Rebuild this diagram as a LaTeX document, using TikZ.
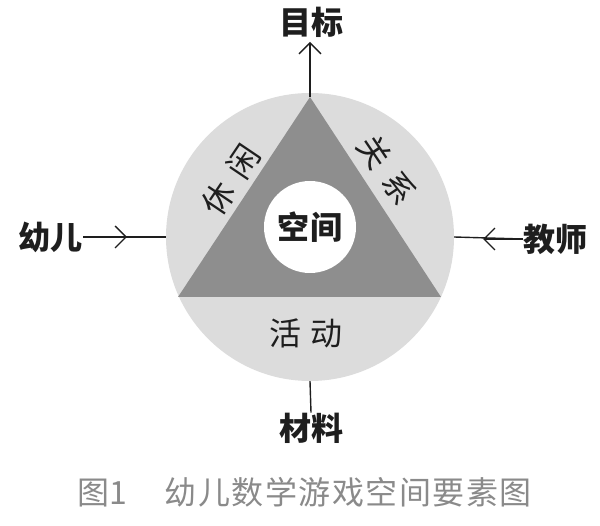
\documentclass[tikz,border=0pt]{standalone}
\usepackage{fontspec}
\setmainfont{Noto Sans CJK SC}
\usetikzlibrary{arrows.meta}
\definecolor{ringgray}{HTML}{DCDCDC}
\definecolor{trigray}{HTML}{8E8E8E}
\definecolor{capgray}{HTML}{8A8A8A}
\definecolor{inkdark}{HTML}{1E1E1E}
\tikzset{
  outerlabel/.style={font=\fontsize{32}{34}\selectfont\bfseries, text=inkdark, inner sep=0pt},
  ringlabel/.style={font=\fontsize{32}{34}\selectfont, text=inkdark, inner sep=0pt},
  conn/.style={line width=1.4pt, draw=inkdark},
  chev/.style={conn, -{Straight Barb[length=11pt,width=22pt,line width=1.4pt]}},
}
\begin{document}
\begin{tikzpicture}[x=1pt,y=-1pt]
\useasboundingbox (0,0) rectangle (600,526);
% outer ring
\node[circle, fill=ringgray, minimum size=288pt, inner sep=0pt] (C) at (310,237) {};
% triangle
\coordinate (A) at (310,97);
\coordinate (L) at (178,297);
\coordinate (R) at (441,297);
\fill[trigray] (A) -- (L) -- (R) -- cycle;
% inner circle
\node[circle, fill=white, minimum size=92pt, inner sep=0pt] (I) at (310,227) {};
\node[font=\fontsize{32}{34}\selectfont\bfseries, text=inkdark, inner sep=0pt] (kj) at (310,227) {空\hspace{1pt}间};
% ring labels
\node[ringlabel, rotate=56] (xx) at (231,180) {休\hspace{12pt}闲};
\node[ringlabel, rotate=-56] (gx) at (387,170) {关\hspace{12pt}系};
\node[ringlabel] (hd) at (306,333) {活\hspace{10pt}动};
% outer labels
\node[outerlabel] (mb) at (311,22) {目标};
\node[outerlabel] (ye) at (51,237) {幼儿};
\node[outerlabel] (js) at (555,239) {教师};
\node[outerlabel] (cl) at (311,428) {材料};
% connectors
\coordinate (topend) at (310,42);
\draw[chev] (A) -- (topend);
\coordinate (lmid) at (127,237);
\draw[conn] (ye.east) -- (C.west);
\draw[chev] (ye.east) -- (lmid);
\coordinate (rmid) at (483,239);
\draw[conn] (js.west) -- (C.east);
\draw[chev] (js.west) -- (rmid);
\draw[conn] (C.south) -- (cl.north);
% caption
\node[font=\fontsize{32}{34}\selectfont, text=capgray, inner sep=0pt, anchor=west] (cap) at (77,492) {图1\hspace{38pt}幼\hspace{1.5pt}儿\hspace{1.5pt}数\hspace{1.5pt}学\hspace{1.5pt}游\hspace{1.5pt}戏\hspace{1.5pt}空\hspace{1.5pt}间\hspace{1.5pt}要\hspace{1.5pt}素\hspace{1.5pt}图};
\end{tikzpicture}
\end{document}
